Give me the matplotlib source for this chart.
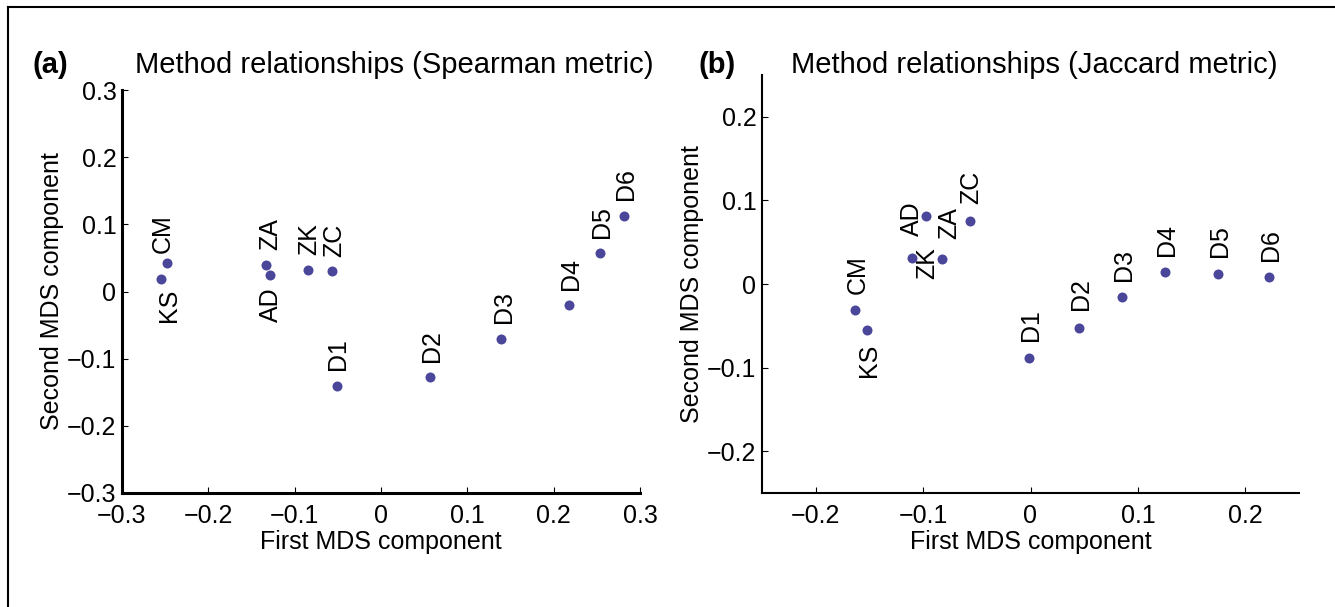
import numpy as np
import matplotlib
matplotlib.use('Agg')
import matplotlib.pyplot as plt
from matplotlib.lines import Line2D

plt.rcParams['font.family'] = ['Liberation Sans', 'DejaVu Sans']

methods = ['KS', 'CM', 'AD', 'ZA', 'ZK', 'ZC', 'D1', 'D2', 'D3', 'D4', 'D5', 'D6']

# panel (a): Spearman metric
spear_x = [-0.255, -0.248, -0.129, -0.133, -0.085, -0.057, -0.051, 0.057, 0.139, 0.218, 0.254, 0.281]
spear_y = [0.019, 0.042, 0.025, 0.039, 0.032, 0.031, -0.140, -0.127, -0.071, -0.020, 0.057, 0.112]

# panel (b): Jaccard metric
jacc_x = [-0.152, -0.163, -0.097, -0.082, -0.110, -0.056, -0.001, 0.045, 0.085, 0.125, 0.175, 0.222]
jacc_y = [-0.055, -0.031, 0.081, 0.030, 0.031, 0.075, -0.089, -0.053, -0.015, 0.014, 0.012, 0.008]

ticks_a = [-0.3, -0.2, -0.1, 0, 0.1, 0.2, 0.3]
ticklabels_a = ['\u22120.3', '\u22120.2', '\u22120.1', '0', '0.1', '0.2', '0.3']
ticks_b = [-0.2, -0.1, 0, 0.1, 0.2]
ticklabels_b = ['\u22120.2', '\u22120.1', '0', '0.1', '0.2']

# label placement (pixel offsets from the dot, and which side)
offs_a = [(6, -10), (-6, 10), (-1, -13), (2, 15), (0, 15), (0, 14),
          (-1, 16), (0, 15), (1, 16), (0, 15), (0, 15), (0, 16)]
side_a = ['right', 'left', 'right', 'left', 'left', 'left',
          'left', 'left', 'left', 'left', 'left', 'left']
offs_b = [(0, -14), (0, 16), (-16, -20), (5, 20), (13, -21), (-1, 17),
          (0, 17), (0, 18), (0, 16), (0, 16), (0, 17), (0, 16)]
side_b = ['right', 'left', 'left', 'left', 'left', 'left',
          'left', 'left', 'left', 'left', 'left', 'left']

dot_color = '#4a479b'
W, H = 1335, 607

fig = plt.figure(figsize=(W / 100, H / 100), dpi=100)


def px_box(left, right, top, bottom):
    return [left / W, 1 - bottom / H, (right - left) / W, (bottom - top) / H]


def panel(box, xs, ys, offs, sides, lim, ticks, ticklabels, spine_w):
    ax = fig.add_axes(box)
    ax.plot(xs, ys, 'o', color=dot_color, markersize=7.2, markeredgewidth=0)
    for name, x, y, (dx, dy), s in zip(methods, xs, ys, offs, sides):
        ax.annotate(name, (x, y), xytext=(dx + 2, dy), textcoords='offset pixels',
                    rotation=90, rotation_mode='anchor', ha=s, va='center', fontsize=18)
    ax.set_xlim(lim)
    ax.set_ylim(lim)
    ax.set_xticks(ticks, ticklabels)
    ax.set_yticks(ticks, ticklabels)
    for sp in ['top', 'right']:
        ax.spines[sp].set_visible(False)
    for sp in ['left', 'bottom']:
        ax.spines[sp].set_linewidth(spine_w)
    ax.tick_params(direction='in', length=4, width=0.8, labelsize=18, pad=4)
    ax.tick_params(axis='x', pad=8)
    ax.set_xlabel('First MDS component', fontsize=18, labelpad=1)
    ax.set_ylabel('Second MDS component', fontsize=18, labelpad=2)
    return ax


ax1 = panel(px_box(122, 640, 90, 493), spear_x, spear_y, offs_a, side_a,
            (-0.3, 0.3), ticks_a, ticklabels_a, 2.2)
ax2 = panel(px_box(762, 1299, 75, 493), jacc_x, jacc_y, offs_b, side_b,
            (-0.25, 0.25), ticks_b, ticklabels_b, 1.5)

fig.text(394 / W, 1 - 73 / H, 'Method relationships (Spearman metric)', fontsize=21,
         ha='center', va='baseline')
fig.text(33 / W, 1 - 73 / H, '(a)', fontsize=21, fontweight='bold', ha='left', va='baseline')
fig.text(1034 / W, 1 - 73 / H, 'Method relationships (Jaccard metric)', fontsize=21,
         ha='center', va='baseline')
fig.text(698 / W, 1 - 73 / H, '(b)', fontsize=21, fontweight='bold', ha='left', va='baseline')

# outer frame (top and left edges only)
fig.add_artist(Line2D([8 / W, 1], [1 - 7 / H, 1 - 7 / H], color='black', lw=1.5))
fig.add_artist(Line2D([8 / W, 8 / W], [0, 1 - 7 / H], color='black', lw=1.5))

fig.savefig('out.png', dpi=100)
